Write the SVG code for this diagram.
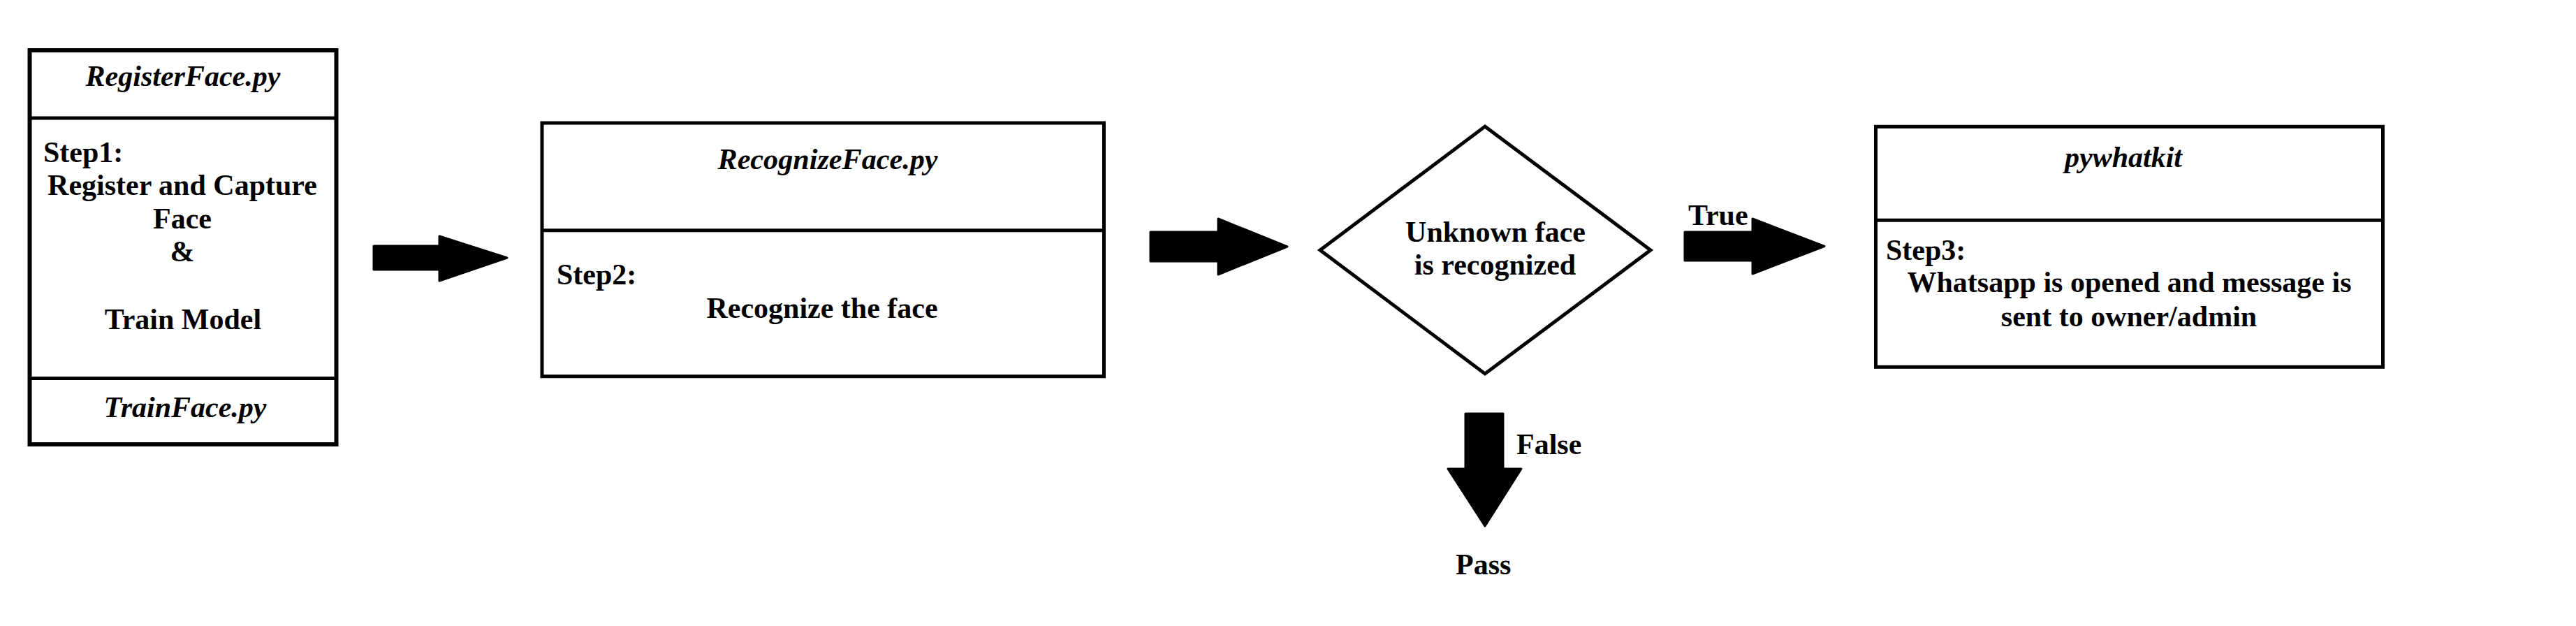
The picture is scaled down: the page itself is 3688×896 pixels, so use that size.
<svg xmlns="http://www.w3.org/2000/svg" width="3688" height="896" viewBox="0 0 3688 896">
<style>
.box{fill:#fff;stroke:#000;stroke-width:5}
.div{stroke:#000;stroke-width:5}
.t{font-family:"Liberation Serif","Times New Roman",serif;font-weight:bold;font-size:42px;fill:#000}
.i{font-style:italic}
.m{text-anchor:middle}
.arr{fill:#000;stroke:#000;stroke-width:3;stroke-linejoin:round}
</style>
<rect width="3688" height="896" fill="#fff"/>
<g id="registerFace">
<rect class="box" x="42.5" y="72" width="439" height="564" style="stroke-width:6"/>
<line class="div" x1="42.5" y1="169" x2="481.5" y2="169"/>
<line class="div" x1="42.5" y1="541.5" x2="481.5" y2="541.5"/>
<text class="t i m" x="262" y="123">RegisterFace.py</text>
<text class="t" x="62" y="232">Step1:</text>
<text class="t m" x="261" y="279">Register and Capture</text>
<text class="t m" x="261" y="327">Face</text>
<text class="t m" x="261" y="374">&amp;</text>
<text class="t m" x="262" y="471">Train Model</text>
<text class="t i m" x="265" y="597">TrainFace.py</text>
</g>
<g id="recognizeFace">
<rect class="box" x="776" y="176" width="804.5" height="362.7"/>
<line class="div" x1="776" y1="329.7" x2="1580.5" y2="329.7"/>
<text class="t i m" x="1185" y="241.7" textLength="315" lengthAdjust="spacingAndGlyphs">RecognizeFace.py</text>
<text class="t" x="797" y="407">Step2:</text>
<text class="t m" x="1177" y="455">Recognize the face</text>
</g>
<g id="decision">
<polygon class="box" points="2126,181 2363,358 2126,535 1890,358"/>
<text class="t m" x="2141" y="345.7">Unknown face</text>
<text class="t m" x="2140.5" y="393.3">is recognized</text>
</g>
<g id="pywhatkit">
<rect class="box" x="2685.5" y="181.3" width="726" height="344"/>
<line class="div" x1="2685.5" y1="315.3" x2="3411.5" y2="315.3"/>
<text class="t i m" x="3040" y="239.3">pywhatkit</text>
<text class="t" x="2700" y="371.7">Step3:</text>
<text class="t m" x="3048.5" y="418.3">Whatsapp is opened and message is</text>
<text class="t m" x="3048" y="466.7">sent to owner/admin</text>
</g>
<g id="pass">
<text class="t" x="2084" y="822">Pass</text>
</g>
<g id="connectors">
<polygon class="arr" points="535,352 629,352 629,338 726,369 629,402 629,386 535,386"/>
<polygon class="arr" points="1647,332 1744,332 1744,313 1843,353 1744,393 1744,374 1647,374"/>
<polygon class="arr" points="2412,332 2509,332 2509,313 2612,352.5 2509,392 2509,373 2412,373"/>
<polygon class="arr" points="2098,592 2152,592 2152,671 2178,671 2126,753 2073,671 2098,671"/>
<text class="t" x="2417" y="322">True</text>
<text class="t" x="2171" y="650">False</text>
</g>
</svg>
